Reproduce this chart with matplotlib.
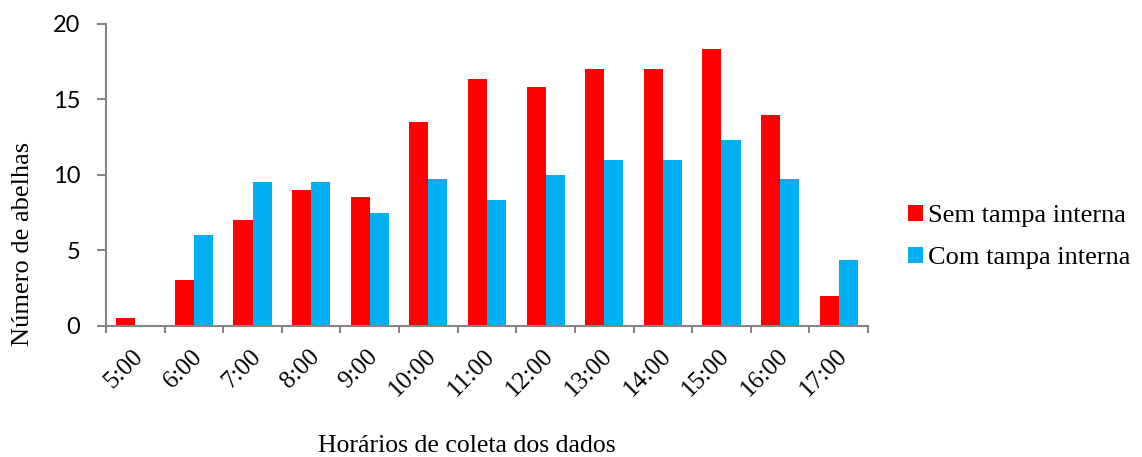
import matplotlib
matplotlib.use('Agg')
import matplotlib.pyplot as plt
import matplotlib.transforms as mtransforms
import numpy as np

# Data
horarios = ['5:00', '6:00', '7:00', '8:00', '9:00', '10:00', '11:00',
            '12:00', '13:00', '14:00', '15:00', '16:00', '17:00']
sem_tampa = [0.5, 3.0, 7.0, 9.0, 8.5, 13.5, 16.33, 15.83, 17.0, 17.0, 18.33, 14.0, 2.0]
com_tampa = [0.0, 6.0, 9.5, 9.5, 7.5, 9.75, 8.33, 10.0, 11.0, 11.0, 12.33, 9.75, 4.33]

RED = '#FF0000'
BLUE = '#00B0F0'
AXIS_GRAY = '#868686'
SERIF = 'Liberation Serif'
SANS = 'Lato'

fig = plt.figure(figsize=(11.42, 4.57), dpi=100)
ax = fig.add_axes([106 / 1142, 1 - 325.7 / 457, 762 / 1142, 301.7 / 457])

x = np.arange(len(horarios))
width = 0.325
ax.bar(x - width / 2, sem_tampa, width, color=RED, label='Sem tampa interna')
ax.bar(x + width / 2, com_tampa, width, color=BLUE, label='Com tampa interna')

ax.set_xlim(-0.5, len(horarios) - 0.5)
ax.set_ylim(0, 20)

# Spines
for side in ('top', 'right'):
    ax.spines[side].set_visible(False)
for side in ('left', 'bottom'):
    ax.spines[side].set_color(AXIS_GRAY)
    ax.spines[side].set_linewidth(1.5)

# Y ticks
ax.set_yticks([0, 5, 10, 15, 20])
ax.tick_params(axis='y', direction='out', length=6.5, width=1.5, color=AXIS_GRAY,
               labelsize=17, pad=12)
for lab in ax.get_yticklabels():
    lab.set_family(SANS)

# X ticks: marks at category boundaries, labels at centres
ax.set_xticks(np.arange(len(horarios) + 1) - 0.5)
ax.set_xticklabels([])
ax.set_xticks(x, minor=True)
ax.set_xticklabels(horarios, minor=True, rotation=45, ha='right', va='top',
                   rotation_mode='anchor', family=SERIF, fontsize=18)
ax.tick_params(axis='x', which='major', direction='out', length=5, width=1.5,
               color=AXIS_GRAY)
ax.tick_params(axis='x', which='minor', length=0, pad=14)
shift = mtransforms.ScaledTranslation(-3 / 100, 0, fig.dpi_scale_trans)
for lab in ax.get_xticklabels(minor=True):
    lab.set_transform(lab.get_transform() + shift)

ax.set_ylabel('Número de abelhas', family=SERIF, fontsize=19)
ax.yaxis.set_label_coords(-0.094, 0.27)
fig.text(467 / 1142, 1 - 446 / 457, 'Horários de coleta dos dados',
         family=SERIF, fontsize=18.5, ha='center', va='center')

fig.legend(loc='upper left', bbox_to_anchor=(0.786, 0.575), frameon=False,
           prop={'family': SERIF, 'size': 19}, handlelength=0.55,
           handleheight=0.55, handletextpad=0.2, labelspacing=0.75,
           borderaxespad=0.0)

fig.savefig('out.png', dpi=100)
